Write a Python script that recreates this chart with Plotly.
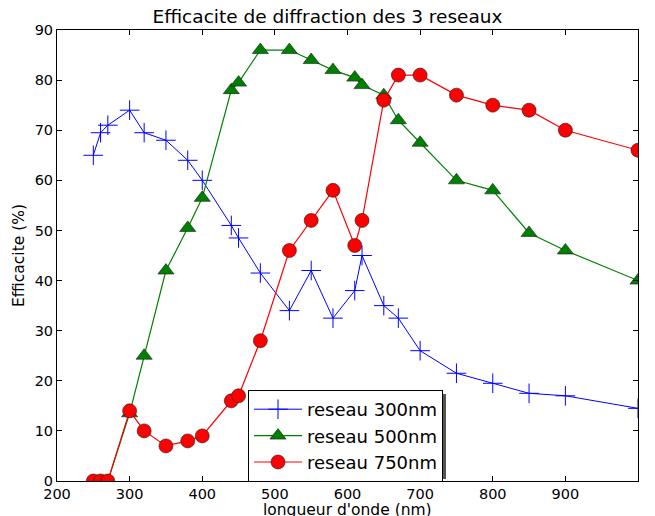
import plotly.graph_objects as go

x300 = [250, 260, 270, 300, 320, 350, 380, 400, 440, 450, 480, 520, 550, 580, 610, 620, 650, 670, 700, 750, 800, 850, 900, 1000]
y300 = [65, 69.5, 71, 74, 69.5, 68, 64, 60, 51, 48.5, 41.5, 34, 42, 32.5, 38, 45, 35, 32.5, 26, 21.5, 19.5, 17.5, 17, 14.5]

x500 = [250, 260, 270, 300, 320, 350, 380, 400, 440, 450, 480, 520, 550, 580, 610, 620, 650, 670, 700, 750, 800, 850, 900, 1000]
y500 = [0, 0, 0, 13.5, 25, 42, 50.5, 56.5, 78, 79.5, 86, 86, 84, 82, 80.5, 79, 77, 72, 67.5, 60, 58, 49.5, 46, 40]

x750 = [250, 260, 270, 300, 320, 350, 380, 400, 440, 450, 480, 520, 550, 580, 610, 620, 650, 670, 700, 750, 800, 850, 900, 1000]
y750 = [0, 0, 0, 14, 10, 7, 8, 9, 16, 17, 28, 46, 52, 58, 47, 52, 76, 81, 81, 77, 75, 74, 70, 66]

names = ["reseau 300nm", "reseau 500nm", "reseau 750nm"]
title = "Efficacite de diffraction des 3 reseaux"
xlabel = "longueur d'onde (nm)"
ylabel = "Efficacite (%)"

font = "DejaVu Sans"
fig = go.Figure()
fig.add_trace(go.Scatter(x=x300, y=y300, name=names[0], mode="lines+markers",
                         line=dict(color="#0000ff", width=1),
                         marker=dict(symbol="cross-thin", size=14, color="#0000ff",
                                     line=dict(color="#0000ff", width=1))))
fig.add_trace(go.Scatter(x=x500, y=y500, name=names[1], mode="lines+markers",
                         line=dict(color="#008000", width=1.2),
                         marker=dict(symbol="triangle-up", size=14, color="#008000",
                                     line=dict(color="#1a1a1a", width=0.6))))
fig.add_trace(go.Scatter(x=x750, y=y750, name=names[2], mode="lines+markers",
                         line=dict(color="#ff0000", width=1.2),
                         marker=dict(symbol="circle", size=14, color="#ff0000",
                                     line=dict(color="#1a1a1a", width=0.6))))

L, R, T, B = 57, 17, 30, 35
W, H = 655, 516
pw = W - L - R
ph = H - T - B

def px(xp):
    return (xp - L) / pw

def py(yp):
    return (H - B - yp) / ph

# legend shadow
fig.add_shape(type="rect", xref="paper", yref="paper",
              x0=px(252), x1=px(446), y0=py(479), y1=py(394),
              fillcolor="#555555", line=dict(width=0), layer="above")

# x-axis title as annotation (placed just below tick labels)
fig.add_annotation(text=xlabel, xref="paper", yref="paper", x=0.5, y=py(510),
                   xanchor="center", yanchor="middle", showarrow=False,
                   font=dict(family=font, size=15.5, color="black"))

axis_common = dict(showgrid=False, zeroline=False, showline=True, linecolor="black",
                   linewidth=1, mirror="allticks", ticks="inside", ticklen=5,
                   tickcolor="black", automargin=False,
                   tickfont=dict(family=font, size=14.5, color="black"))

fig.update_layout(
    width=W, height=H,
    margin=dict(l=L, r=R, t=T, b=B),
    paper_bgcolor="white", plot_bgcolor="white",
    title=dict(text=title, x=0.5, xanchor="center", y=1 - 17 / H, yanchor="middle",
               font=dict(family=font, size=18.5, color="black"), automargin=False),
    xaxis=dict(range=[200, 1000], dtick=100, tick0=200, **axis_common),
    yaxis=dict(range=[0, 90], dtick=10, tick0=0,
               title=dict(text=ylabel, standoff=6, font=dict(family=font, size=15.5, color="black")),
               **axis_common),
    legend=dict(x=px(248), y=py(390), xanchor="left", yanchor="top",
                bgcolor="white", bordercolor="black", borderwidth=1,
                font=dict(family=font, size=18, color="black"),
                tracegroupgap=0, itemwidth=48),
    showlegend=True,
)

fig.write_html("out.html", config={"displayModeBar": False},
               post_script="document.body.style.margin='0';document.body.style.overflow='hidden';")
